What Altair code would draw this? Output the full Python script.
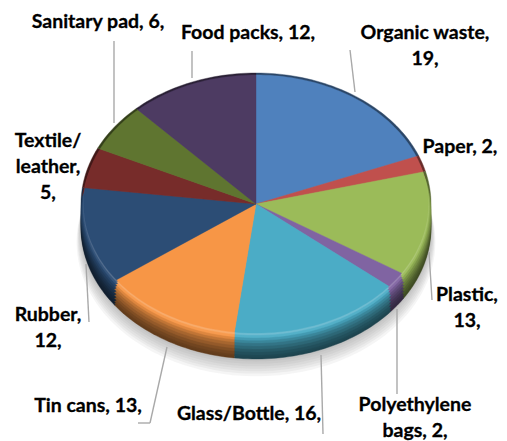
import math
import altair as alt

# Data
categories = ["Organic waste", "Paper", "Plastic", "Polyethylene bags", "Glass/Bottle",
              "Tin cans", "Rubber", "Textile/leather", "Sanitary pad", "Food packs"]
values = [19, 2, 13, 2, 16, 13, 12, 5, 6, 12]
colors = ["#4f81bd", "#c0504d", "#9bbb59", "#8064a2", "#4bacc6",
          "#f79646", "#2c4d75", "#772c2a", "#5f7530", "#4d3b62"]
label_texts = ["Organic waste,\n19,", "Paper, 2,", "Plastic,\n13,", "Polyethylene\nbags, 2,",
               "Glass/Bottle, 16,", "Tin cans, 13,", "Rubber,\n12,", "Textile/\nleather,\n5,",
               "Sanitary pad, 6,", "Food packs, 12,"]

# Layout (page pixels)
OFF = 8
CX, CY, RX, RY = 256, 204, 175, 131
label_x = [425, 460, 467, 415, 249, 88, 48, 48, 98, 248]
label_y = [33, 147, 295, 405, 414, 406, 315, 141, 22, 33]
leader_x = [350, 192, 114, 429, 397, 321, 167, 150, 86]
leader_x2 = [355, 192, 114, 432, 397, 323, 150, 138, 89]
leader_y = [50, 51, 41, 252, 309, 355, 347, 423, 264]
leader_y2 = [92, 78, 123, 300, 394, 434, 423, 423, 322]


def mix(color, factor):
    r, g, b = (int(color[i:i + 2], 16) for i in (1, 3, 5))
    if factor <= 1:
        r, g, b = r * factor, g * factor, b * factor
    else:
        t = factor - 1
        r, g, b = r + (255 - r) * t, g + (255 - g) * t, b + (255 - b) * t
    return "#%02x%02x%02x" % (int(r), int(g), int(b))


def ellipse_point(deg, s, dy):
    a = math.radians(deg)
    return [CX - OFF + RX * s * math.sin(a), CY - OFF + dy - RY * s * math.cos(a)]


def wedge(start, end, s, dy, fill):
    steps = max(2, int((end - start) / 1.5))
    ring = [[CX - OFF, CY - OFF + dy]]
    ring += [ellipse_point(start + (end - start) * i / steps, s, dy) for i in range(steps + 1)]
    ring.append(ring[0])
    return {"type": "Feature", "properties": {"fill": fill},
            "geometry": {"type": "Polygon", "coordinates": [ring]}}


# (radius scale, downward shift, colour factor), back to front
layers = [(1.0, 0, .55), (1.0, 24, .40), (1.0, 22, .42), (1.0, 20, .46), (1.0, 17, .52), (1.0, 14, .60),
          (1.0, 11, .68), (1.0, 8, .78), (0.995, 6, .90), (0.99, 4, 1.05), (0.985, 2, 1.2),
          (0.985, 0, 1.0)]
features = []
for s, dy, f in layers:
    start = 0.0
    for v, c in zip(values, colors):
        end = start + v * 360 / sum(values)
        features.append(wedge(start, end, s, dy, mix(c, f)))
        start = end

shadow_features = [wedge(0, 360, s, dy, "#707070")
                   for s, dy in [(1.025, 38), (1.02, 36), (1.017, 34), (1.013, 32), (1.01, 30),
                                 (1.006, 28), (1.003, 26)]]

shadow = (alt.Chart(alt.Data(values=shadow_features))
          .mark_geoshape(fill="#707070", opacity=0.07, strokeWidth=0)
          .project(type="identity", scale=1, translate=[0, 0]))

pie = (alt.Chart(alt.Data(values=features))
       .mark_geoshape(strokeWidth=0.4)
       .encode(fill=alt.Fill("properties.fill:N", scale=None),
               stroke=alt.Stroke("properties.fill:N", scale=None))
       .project(type="identity", scale=1, translate=[0, 0]))

rule_rows = [{"x": a - OFF, "x2": b - OFF, "y": c - OFF, "y2": d - OFF}
             for a, b, c, d in zip(leader_x, leader_x2, leader_y, leader_y2)]
rules = (alt.Chart(alt.Data(values=rule_rows))
         .mark_rule(color="#a9a9a9", strokeWidth=1.4)
         .encode(x=alt.X("x:Q", scale=None, axis=None), x2="x2:Q",
                 y=alt.Y("y:Q", scale=None, axis=None), y2="y2:Q"))

text_rows = [{"t": t, "x": x - OFF, "y": y - OFF} for t, x, y in zip(label_texts, label_x, label_y)]
labels = (alt.Chart(alt.Data(values=text_rows))
          .transform_calculate(lines="split(datum.t, '\\n')")
          .mark_text(font="Lato", fontWeight="bold", fontSize=19.5, color="#000000",
                     stroke="#000000", strokeWidth=0.3,
                     align="center", baseline="middle", lineHeight=26)
          .encode(x=alt.X("x:Q", scale=None, axis=None),
                  y=alt.Y("y:Q", scale=None, axis=None),
                  text="lines:N"))

chart = (alt.layer(shadow, pie, rules, labels)
         .properties(width=491, height=433, padding=0, autosize=alt.AutoSizeParams(type="none"),
                     background="white")
         .configure_view(stroke=None))

chart.save("out.html", embed_options={"renderer": "svg", "actions": False})
